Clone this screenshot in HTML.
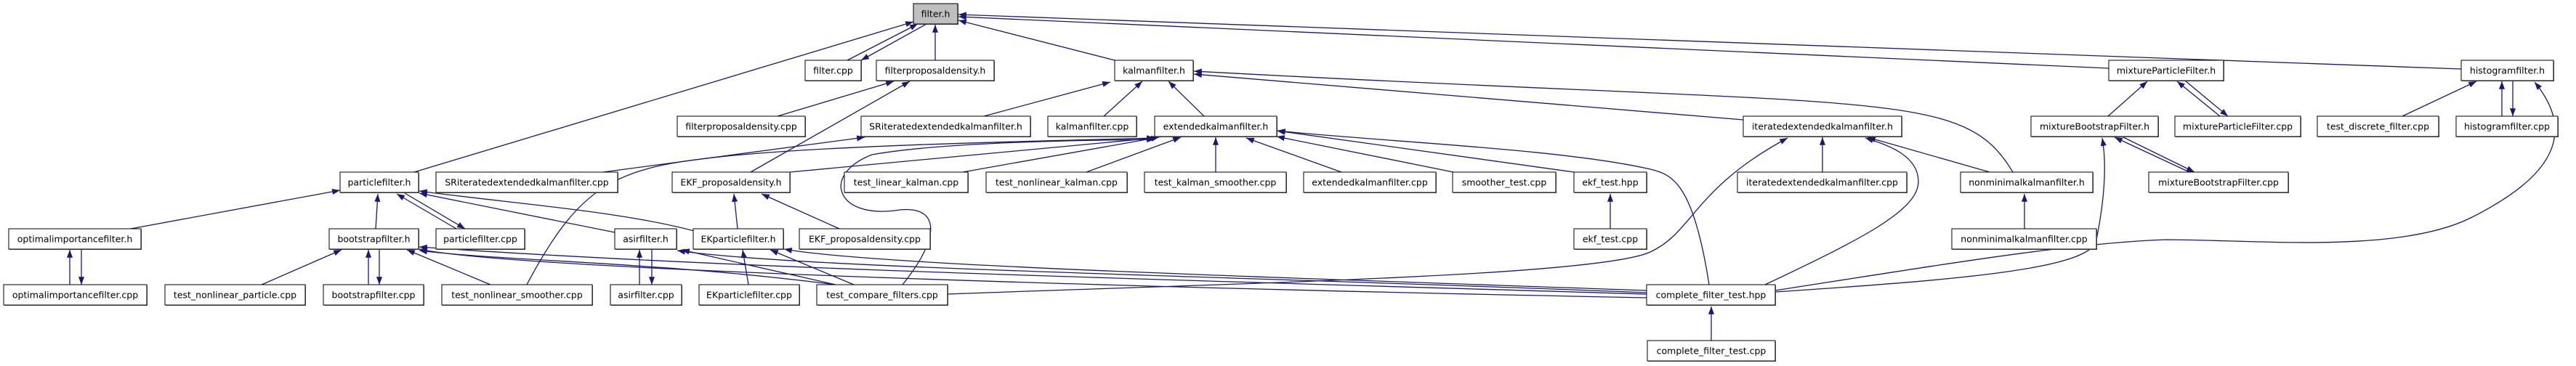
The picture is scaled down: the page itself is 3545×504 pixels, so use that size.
<!DOCTYPE html>
<html><head><meta charset="utf-8"><style>html,body{margin:0;padding:0;background:#fff}svg{display:block}</style></head><body>
<svg width="3545" height="504" viewBox="0 0 3545 504" xmlns="http://www.w3.org/2000/svg">
<defs><marker id="a" viewBox="0 0 12 10" refX="12" refY="5" markerWidth="12" markerHeight="9" orient="auto" markerUnits="userSpaceOnUse"><path d="M0,0.5 L12,5 L0,9.5 z" fill="#191970"/></marker></defs>
<g fill="none" stroke="#191970" stroke-width="1.3" marker-end="url(#a)">
<line x1="570" y1="237" x2="1257" y2="30"/>
<line x1="1166" y1="83" x2="1263" y2="33"/>
<line x1="1275" y1="33" x2="1185" y2="83"/>
<line x1="1287" y1="83" x2="1287" y2="34"/>
<line x1="1534" y1="83" x2="1319" y2="28"/>
<line x1="2902" y1="94" x2="1319" y2="23"/>
<line x1="3387" y1="95" x2="1319" y2="20"/>
<line x1="1070" y1="160" x2="1230" y2="112"/>
<line x1="1033" y1="237" x2="1252" y2="112"/>
<line x1="1354" y1="160" x2="1528" y2="113"/>
<line x1="1519" y1="160" x2="1572" y2="112"/>
<line x1="1657" y1="160" x2="1608" y2="112"/>
<line x1="2399" y1="165" x2="1643" y2="102"/>
<path d="M2770,237 C2700,120 2600,150 1643,98"/>
<line x1="830" y1="237" x2="1190" y2="189"/>
<line x1="1087" y1="237" x2="1589" y2="190"/>
<line x1="1325" y1="237" x2="1595" y2="189"/>
<line x1="1495" y1="237" x2="1625" y2="189"/>
<line x1="1673" y1="237" x2="1673" y2="189"/>
<line x1="1846" y1="237" x2="1715" y2="190"/>
<line x1="2000" y1="237" x2="1757" y2="188"/>
<line x1="2166" y1="237" x2="1757" y2="180"/>
<line x1="2216" y1="315" x2="2216" y2="267"/>
<path d="M725,392 C800,250 850,230 1000,215 S1400,195 1589,190"/>
<path d="M1242,392 C1300,320 1290,280 1231,290 C1150,300 1130,240 1200,213 C1300,195 1500,193 1589,192"/>
<path d="M2352,392 C2330,250 2300,240 2271,233 C2150,205 1900,195 1758,180"/>
<line x1="2508" y1="237" x2="2508" y2="189"/>
<line x1="2738" y1="237" x2="2570" y2="189"/>
<path d="M2429,392 C2560,330 2640,290 2640,250 C2640,215 2600,200 2567,190"/>
<path d="M1304,405 C1700,390 2200,380 2271,347 C2330,320 2330,260 2460,190"/>
<line x1="2786" y1="315" x2="2786" y2="267"/>
<line x1="2901" y1="160" x2="2955" y2="112"/>
<line x1="3055" y1="160" x2="2996" y2="112"/>
<line x1="3007" y1="111" x2="3066" y2="160"/>
<line x1="3013" y1="237" x2="2910" y2="189"/>
<line x1="2920" y1="188" x2="3020" y2="237"/>
<path d="M2443,402 C2700,385 2880,370 2885,330 C2895,280 2900,230 2893,190"/>
<path d="M2443,400 C2700,360 2850,335 2980,330 C3100,330 3300,350 3400,300 C3480,260 3560,200 3488,113"/>
<line x1="3306" y1="160" x2="3408" y2="112"/>
<line x1="3443" y1="160" x2="3443" y2="112"/>
<line x1="3458" y1="111" x2="3458" y2="160"/>
<line x1="2355" y1="469" x2="2355" y2="422"/>
<line x1="180" y1="315" x2="468" y2="262"/>
<line x1="517" y1="315" x2="520" y2="267"/>
<line x1="628" y1="315" x2="546" y2="267"/>
<line x1="557" y1="266" x2="640" y2="315"/>
<line x1="846" y1="320" x2="577" y2="266"/>
<path d="M955,318 C850,290 700,280 577,263"/>
<line x1="96" y1="392" x2="96" y2="344"/>
<line x1="112" y1="343" x2="112" y2="392"/>
<line x1="360" y1="392" x2="470" y2="344"/>
<line x1="507" y1="392" x2="507" y2="344"/>
<line x1="522" y1="343" x2="522" y2="392"/>
<line x1="675" y1="392" x2="560" y2="344"/>
<path d="M1150,392 C900,360 700,360 577,345"/>
<path d="M2266,410 C1500,395 700,370 577,343"/>
<path d="M2266,405 C1600,385 1000,370 577,340"/>
<line x1="880" y1="392" x2="880" y2="344"/>
<line x1="897" y1="343" x2="897" y2="392"/>
<line x1="1150" y1="392" x2="938" y2="344"/>
<path d="M2266,403 C1700,380 1100,370 932,345"/>
<line x1="1030" y1="392" x2="1022" y2="344"/>
<line x1="1175" y1="392" x2="1060" y2="344"/>
<path d="M2266,400 C1700,380 1200,365 1079,343"/>
<line x1="1155" y1="315" x2="1048" y2="267"/>
<line x1="1015" y1="315" x2="1010" y2="267"/>
</g>
<g font-family="DejaVu Sans, Liberation Sans, sans-serif" font-size="12.5" text-anchor="middle">
<rect x="1258" y="6" width="61" height="28" fill="#666"/><rect x="1257" y="5" width="61" height="28" fill="#bfbfbf" stroke="#000"/><text x="1287.5" y="23.5">filter.h</text>
<g>
<rect x="1109" y="84" width="77" height="28" fill="#666"/><rect x="1108" y="83" width="77" height="28" fill="#fff" stroke="#000"/><text x="1146.5" y="101.5">filter.cpp</text>
<rect x="1207" y="84" width="162" height="28" fill="#666"/><rect x="1206" y="83" width="162" height="28" fill="#fff" stroke="#000"/><text x="1287" y="101.5">filterproposaldensity.h</text>
<rect x="1535" y="84" width="108" height="28" fill="#666"/><rect x="1534" y="83" width="108" height="28" fill="#fff" stroke="#000"/><text x="1588" y="101.5">kalmanfilter.h</text>
<rect x="2903" y="84" width="158" height="28" fill="#666"/><rect x="2902" y="83" width="158" height="28" fill="#fff" stroke="#000"/><text x="2981" y="101.5">mixtureParticleFilter.h</text>
<rect x="3388" y="84" width="127" height="28" fill="#666"/><rect x="3387" y="83" width="127" height="28" fill="#fff" stroke="#000"/><text x="3450.5" y="101.5">histogramfilter.h</text>

<rect x="933" y="161" width="176" height="28" fill="#666"/><rect x="932" y="160" width="176" height="28" fill="#fff" stroke="#000"/><text x="1020" y="178.5">filterproposaldensity.cpp</text>
<rect x="1186" y="161" width="233" height="28" fill="#666"/><rect x="1185" y="160" width="233" height="28" fill="#fff" stroke="#000"/><text x="1301.5" y="178.5">SRiteratedextendedkalmanfilter.h</text>
<rect x="1443" y="161" width="122" height="28" fill="#666"/><rect x="1442" y="160" width="122" height="28" fill="#fff" stroke="#000"/><text x="1503" y="178.5">kalmanfilter.cpp</text>
<rect x="1590" y="161" width="168" height="28" fill="#666"/><rect x="1589" y="160" width="168" height="28" fill="#fff" stroke="#000"/><text x="1673" y="178.5">extendedkalmanfilter.h</text>
<rect x="2400" y="161" width="218" height="28" fill="#666"/><rect x="2399" y="160" width="218" height="28" fill="#fff" stroke="#000"/><text x="2508" y="178.5">iteratedextendedkalmanfilter.h</text>
<rect x="2796" y="161" width="175" height="28" fill="#666"/><rect x="2795" y="160" width="175" height="28" fill="#fff" stroke="#000"/><text x="2882.5" y="178.5">mixtureBootstrapFilter.h</text>
<rect x="2994" y="161" width="173" height="28" fill="#666"/><rect x="2993" y="160" width="173" height="28" fill="#fff" stroke="#000"/><text x="3079.5" y="178.5">mixtureParticleFilter.cpp</text>
<rect x="3190" y="161" width="167" height="28" fill="#666"/><rect x="3189" y="160" width="167" height="28" fill="#fff" stroke="#000"/><text x="3272.5" y="178.5">test_discrete_filter.cpp</text>
<rect x="3381" y="161" width="140" height="28" fill="#666"/><rect x="3380" y="160" width="140" height="28" fill="#fff" stroke="#000"/><text x="3450" y="178.5">histogramfilter.cpp</text>

<rect x="469" y="238" width="108" height="28" fill="#666"/><rect x="468" y="237" width="108" height="28" fill="#fff" stroke="#000"/><text x="522" y="255.5">particlefilter.h</text>
<rect x="601" y="238" width="250" height="28" fill="#666"/><rect x="600" y="237" width="250" height="28" fill="#fff" stroke="#000"/><text x="725" y="255.5">SRiteratedextendedkalmanfilter.cpp</text>
<rect x="926" y="238" width="162" height="28" fill="#666"/><rect x="925" y="237" width="162" height="28" fill="#fff" stroke="#000"/><text x="1006" y="255.5">EKF_proposaldensity.h</text>
<rect x="1163" y="238" width="170" height="28" fill="#666"/><rect x="1162" y="237" width="170" height="28" fill="#fff" stroke="#000"/><text x="1247" y="255.5">test_linear_kalman.cpp</text>
<rect x="1358" y="238" width="194" height="28" fill="#666"/><rect x="1357" y="237" width="194" height="28" fill="#fff" stroke="#000"/><text x="1454" y="255.5">test_nonlinear_kalman.cpp</text>
<rect x="1576" y="238" width="195" height="28" fill="#666"/><rect x="1575" y="237" width="195" height="28" fill="#fff" stroke="#000"/><text x="1672.5" y="255.5">test_kalman_smoother.cpp</text>
<rect x="1795" y="238" width="182" height="28" fill="#666"/><rect x="1794" y="237" width="182" height="28" fill="#fff" stroke="#000"/><text x="1885" y="255.5">extendedkalmanfilter.cpp</text>
<rect x="2000" y="238" width="142" height="28" fill="#666"/><rect x="1999" y="237" width="142" height="28" fill="#fff" stroke="#000"/><text x="2070" y="255.5">smoother_test.cpp</text>
<rect x="2167" y="238" width="100" height="28" fill="#666"/><rect x="2166" y="237" width="100" height="28" fill="#fff" stroke="#000"/><text x="2216" y="255.5">ekf_test.hpp</text>
<rect x="2392" y="238" width="233" height="28" fill="#666"/><rect x="2391" y="237" width="233" height="28" fill="#fff" stroke="#000"/><text x="2507.5" y="255.5">iteratedextendedkalmanfilter.cpp</text>
<rect x="2699" y="238" width="182" height="28" fill="#666"/><rect x="2698" y="237" width="182" height="28" fill="#fff" stroke="#000"/><text x="2789" y="255.5">nonminimalkalmanfilter.h</text>
<rect x="2958" y="238" width="192" height="28" fill="#666"/><rect x="2957" y="237" width="192" height="28" fill="#fff" stroke="#000"/><text x="3053" y="255.5">mixtureBootstrapFilter.cpp</text>

<rect x="13" y="316" width="182" height="28" fill="#666"/><rect x="12" y="315" width="182" height="28" fill="#fff" stroke="#000"/><text x="103" y="333.5">optimalimportancefilter.h</text>
<rect x="454" y="316" width="123" height="28" fill="#666"/><rect x="453" y="315" width="123" height="28" fill="#fff" stroke="#000"/><text x="514.5" y="333.5">bootstrapfilter.h</text>
<rect x="601" y="316" width="122" height="28" fill="#666"/><rect x="600" y="315" width="122" height="28" fill="#fff" stroke="#000"/><text x="661" y="333.5">particlefilter.cpp</text>
<rect x="847" y="316" width="85" height="28" fill="#666"/><rect x="846" y="315" width="85" height="28" fill="#fff" stroke="#000"/><text x="888.5" y="333.5">asirfilter.h</text>
<rect x="955" y="316" width="124" height="28" fill="#666"/><rect x="954" y="315" width="124" height="28" fill="#fff" stroke="#000"/><text x="1016" y="333.5">EKparticlefilter.h</text>
<rect x="1101" y="316" width="180" height="28" fill="#666"/><rect x="1100" y="315" width="180" height="28" fill="#fff" stroke="#000"/><text x="1190" y="333.5">EKF_proposaldensity.cpp</text>
<rect x="2167" y="316" width="100" height="28" fill="#666"/><rect x="2166" y="315" width="100" height="28" fill="#fff" stroke="#000"/><text x="2216" y="333.5">ekf_test.cpp</text>
<rect x="2687" y="316" width="199" height="28" fill="#666"/><rect x="2686" y="315" width="199" height="28" fill="#fff" stroke="#000"/><text x="2785.5" y="333.5">nonminimalkalmanfilter.cpp</text>

<rect x="6" y="393" width="197" height="28" fill="#666"/><rect x="5" y="392" width="197" height="28" fill="#fff" stroke="#000"/><text x="103.5" y="410.5">optimalimportancefilter.cpp</text>
<rect x="228" y="393" width="193" height="28" fill="#666"/><rect x="227" y="392" width="193" height="28" fill="#fff" stroke="#000"/><text x="323.5" y="410.5">test_nonlinear_particle.cpp</text>
<rect x="446" y="393" width="138" height="28" fill="#666"/><rect x="445" y="392" width="138" height="28" fill="#fff" stroke="#000"/><text x="514" y="410.5">bootstrapfilter.cpp</text>
<rect x="609" y="393" width="207" height="28" fill="#666"/><rect x="608" y="392" width="207" height="28" fill="#fff" stroke="#000"/><text x="711.5" y="410.5">test_nonlinear_smoother.cpp</text>
<rect x="841" y="393" width="98" height="28" fill="#666"/><rect x="840" y="392" width="98" height="28" fill="#fff" stroke="#000"/><text x="889" y="410.5">asirfilter.cpp</text>
<rect x="963" y="393" width="138" height="28" fill="#666"/><rect x="962" y="392" width="138" height="28" fill="#fff" stroke="#000"/><text x="1031" y="410.5">EKparticlefilter.cpp</text>
<rect x="1125" y="393" width="180" height="28" fill="#666"/><rect x="1124" y="392" width="180" height="28" fill="#fff" stroke="#000"/><text x="1214" y="410.5">test_compare_filters.cpp</text>
<rect x="2267" y="393" width="177" height="28" fill="#666"/><rect x="2266" y="392" width="177" height="28" fill="#fff" stroke="#000"/><text x="2354.5" y="410.5">complete_filter_test.hpp</text>

<rect x="2268" y="470" width="176" height="28" fill="#666"/><rect x="2267" y="469" width="176" height="28" fill="#fff" stroke="#000"/><text x="2355" y="487.5">complete_filter_test.cpp</text>
</g>
</g>
</svg>
</body></html>
